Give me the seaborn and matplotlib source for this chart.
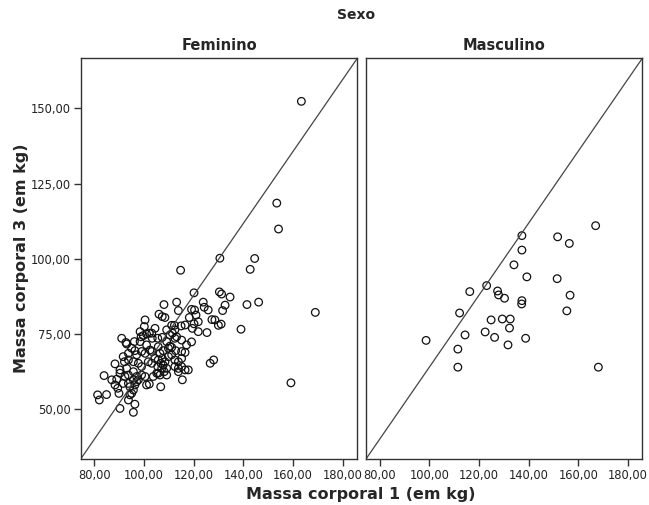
import matplotlib
matplotlib.use("Agg")
import matplotlib.pyplot as plt
import seaborn as sns
import pandas as pd

sns.set_style("white")
plt.rcParams['font.family'] = ['DejaVu Sans']

# Feminino: Massa corporal 1 (x) and Massa corporal 3 (y)
fem_massa1 = [163.3, 153.4, 154.1, 130.5, 144.5, 142.7, 114.7, 120.1, 130.3, 131.2,
              134.6, 146.1, 141.4, 168.9, 139.0, 159.1, 126.6, 128.0, 108.0, 113.1,
              113.8, 119.1, 120.3, 123.8, 124.2, 125.8, 131.6, 132.6, 120.9, 118.2,
              121.8, 120.1, 119.4, 121.8, 125.3, 127.3, 128.5, 129.9, 131.0, 106.0,
              107.3, 108.4, 100.4, 100.1, 104.4, 111.1, 112.2, 114.9, 116.5, 112.4,
              113.1, 111.4, 112.4, 119.1, 91.0, 92.7, 93.0, 96.1, 98.8, 99.7,
              101.0, 102.1, 103.3, 105.5, 107.3, 109.1, 110.4, 111.1, 112.7, 95.0,
              96.3, 99.0, 100.4, 103.1, 105.7, 107.7, 109.8, 111.1, 115.1, 116.5,
              115.1, 112.4, 113.8, 88.3, 90.3, 92.1, 93.7, 95.7, 97.7, 99.0,
              101.7, 104.4, 105.7, 106.8, 107.7, 109.1, 107.1, 105.7, 106.4, 109.1,
              112.4, 113.8, 115.1, 116.5, 117.8, 113.8, 83.9, 87.0, 89.0, 90.3,
              92.3, 93.7, 95.7, 97.0, 97.7, 99.0, 100.4, 103.7, 105.1, 81.3,
              82.0, 84.9, 88.3, 89.4, 89.9, 91.6, 93.7, 94.3, 95.0, 95.7,
              96.3, 97.0, 101.0, 102.1, 106.7, 115.4, 90.3, 93.7, 95.7, 96.3,
              94.3, 106.4, 107.3, 108.4, 105.5, 108.1, 109.8, 101.0, 102.4, 98.4,
              93.7, 91.6, 97.0, 93.0, 95.7, 103.1, 110.4, 109.1, 115.1, 117.1,
              103.1, 98.4]
fem_massa3 = [152.3, 118.5, 109.9, 100.2, 100.1, 96.5, 96.2, 88.7, 89.0, 88.3,
              87.3, 85.6, 84.8, 82.2, 76.6, 58.8, 65.3, 66.4, 84.8, 85.6,
              82.8, 83.2, 83.0, 85.6, 83.9, 83.0, 82.8, 84.6, 81.3, 80.5,
              79.1, 78.4, 76.9, 75.8, 75.5, 79.8, 79.7, 77.9, 78.3, 81.6,
              80.8, 80.5, 79.7, 77.5, 76.9, 77.9, 77.9, 77.7, 78.0, 76.4,
              74.1, 75.3, 73.6, 72.4, 73.6, 72.2, 71.7, 72.5, 74.1, 74.5,
              75.0, 75.3, 73.6, 73.6, 73.9, 72.5, 71.0, 70.6, 69.5, 70.3,
              69.5, 69.2, 68.6, 69.2, 70.8, 69.5, 70.3, 68.1, 69.2, 68.9,
              66.9, 66.4, 65.8, 65.1, 63.1, 65.8, 66.4, 65.8, 65.3, 64.2,
              65.8, 66.9, 66.4, 65.3, 64.7, 63.6, 63.6, 62.0, 61.4, 61.4,
              64.2, 63.6, 64.2, 63.1, 63.1, 62.5, 61.2, 59.8, 60.0, 62.0,
              60.9, 61.4, 59.8, 60.9, 59.8, 61.4, 60.9, 60.9, 62.0, 54.8,
              53.1, 54.9, 58.1, 57.0, 55.3, 58.6, 58.6, 57.5, 55.3, 56.4,
              58.1, 59.2, 58.1, 58.4, 57.5, 59.8, 50.3, 53.1, 49.0, 51.7,
              54.8, 68.6, 66.9, 65.8, 64.2, 62.5, 67.5, 71.4, 69.7, 72.5,
              68.6, 67.5, 68.1, 63.6, 62.5, 65.3, 74.7, 76.4, 73.0, 71.4,
              75.3, 75.8]

# Masculino
masc_massa1 = [167.0, 137.3, 151.7, 156.4, 137.3, 134.1, 139.3, 151.5, 123.1, 116.3,
               127.5, 127.9, 130.3, 156.7, 137.3, 137.2, 155.4, 112.2, 124.9, 129.4,
               132.6, 132.3, 114.4, 122.5, 126.3, 138.8, 98.7, 111.5, 131.7, 111.5,
               168.1]
masc_massa3 = [111.0, 107.7, 107.3, 105.1, 102.9, 98.0, 94.0, 93.4, 91.1, 89.1,
               89.3, 88.0, 86.9, 87.9, 86.1, 85.0, 82.7, 82.0, 79.7, 80.0,
               80.0, 77.0, 74.7, 75.7, 73.9, 73.6, 72.9, 70.0, 71.4, 64.0,
               64.0]

sexo_labels = ["Feminino", "Masculino"]
x_ticks = [80, 100, 120, 140, 160, 180]
y_ticks = [50, 75, 100, 125, 150]
x_limits = (74.5, 185.8)
y_limits = (33.5, 166.6)

df = pd.concat([
    pd.DataFrame({"m1": fem_massa1, "m3": fem_massa3, "Sexo": sexo_labels[0]}),
    pd.DataFrame({"m1": masc_massa1, "m3": masc_massa3, "Sexo": sexo_labels[1]}),
])

W, H = 649, 505
fig = plt.figure(figsize=(W / 100, H / 100), dpi=100)
ax1 = fig.add_axes([80.7 / W, 1 - 459 / H, (357.3 - 80.7) / W, (459 - 58.3) / H])
ax2 = fig.add_axes([366 / W, 1 - 459 / H, (642.3 - 366) / W, (459 - 58.3) / H])

def fmt(v):
    return f"{v:.2f}".replace(".", ",")

for ax, lab in zip([ax1, ax2], sexo_labels):
    sub = df[df["Sexo"] == lab]
    sns.scatterplot(data=sub, x="m1", y="m3", ax=ax, marker="o", s=30,
                    facecolors="none", edgecolor="#111111", linewidth=0.9,
                    legend=False)
    ax.plot([0, 1], [0, 1], transform=ax.transAxes, color="#444444", lw=0.9)
    ax.set_xlim(*x_limits)
    ax.set_ylim(*y_limits)
    ax.set_xticks(x_ticks)
    ax.set_xticklabels([fmt(v) for v in x_ticks], fontsize=8.3, color="#222222")
    ax.set_xlabel("")
    ax.set_ylabel("")
    ax.set_title(lab, fontsize=10.5, fontweight="bold", pad=6)
    for sp in ax.spines.values():
        sp.set_color("#333333")
        sp.set_linewidth(1.0)
    ax.tick_params(axis="x", direction="out", length=5, width=1, color="#333333",
                   pad=2, bottom=True)

ax1.set_yticks(y_ticks)
ax1.set_yticklabels([fmt(v) for v in y_ticks], fontsize=8.3, color="#222222")
ax1.tick_params(axis="y", direction="out", length=5, width=1, color="#333333",
                pad=2, left=True)
ax2.set_yticks([])

fig.text(356 / W, 1 - 15 / H, "Sexo", ha="center", va="center",
         fontsize=10, fontweight="bold")
fig.text(361 / W, 1 - 494 / H, "Massa corporal 1 (em kg)", ha="center",
         va="center", fontsize=11.5, fontweight="bold")
fig.text(22 / W, 1 - 258 / H, "Massa corporal 3 (em kg)", ha="center",
         va="center", rotation=90, fontsize=11.5, fontweight="bold")

fig.savefig("out.png", dpi=100)
